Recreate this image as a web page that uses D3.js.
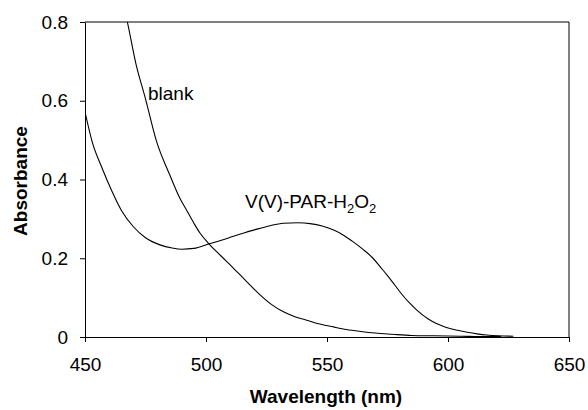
<!DOCTYPE html>
<html>
  <head>
    <script src="https://d3js.org/d3.v7.min.js"></script>
    <style>
      body { margin: 0; background: #fff; }
      text { font-family: Arial, "Liberation Sans", sans-serif; }
      .tick text { font-size: 19px; fill: #000; }
      .axis-title { font-size: 19px; font-weight: bold; }
      .label { font-size: 19px; }
    </style>
  </head>
  <body>
    <div id="chart"></div>
    <script>
      const complexWl = [450, 453, 457, 461, 465, 470, 475, 481, 486, 490, 495, 501, 506, 511, 516, 520, 526, 532, 538, 543, 548, 553, 557, 561, 565, 569, 572, 575, 578, 581, 584, 587, 592, 599, 604, 608, 612, 616, 621, 627];
      const complexAbs = [0.572, 0.495, 0.430, 0.372, 0.322, 0.280, 0.252, 0.234, 0.226, 0.223, 0.225, 0.236, 0.245, 0.255, 0.265, 0.272, 0.282, 0.289, 0.290, 0.288, 0.282, 0.271, 0.258, 0.241, 0.222, 0.200, 0.178, 0.156, 0.132, 0.108, 0.087, 0.069, 0.045, 0.025, 0.017, 0.012, 0.008, 0.005, 0.003, 0.002];
      const blankWl = [466, 467.5, 471, 475, 479.5, 485, 489, 492, 495, 497.5, 501, 506, 511, 516, 522, 527, 532, 537, 542, 547, 553, 558, 564, 570, 577, 585, 594, 605, 614, 622];
      const blankAbs = [0.84, 0.80, 0.695, 0.605, 0.498, 0.412, 0.355, 0.322, 0.289, 0.264, 0.238, 0.207, 0.177, 0.146, 0.109, 0.083, 0.064, 0.051, 0.042, 0.033, 0.025, 0.019, 0.014, 0.010, 0.007, 0.004, 0.003, 0.002, 0.001, 0.001];
      const xTicks = [450, 500, 550, 600, 650];
      const yTicks = [0, 0.2, 0.4, 0.6, 0.8];

      const W = 588, H = 410;
      const m = { left: 85, right: 569, top: 22, bottom: 337 };

      const svg = d3.select("#chart").append("svg")
        .attr("width", W).attr("height", H);

      const x = d3.scaleLinear().domain([450, 650]).range([m.left, m.right]);
      const y = d3.scaleLinear().domain([0, 0.8]).range([m.bottom, m.top]);

      svg.append("defs").append("clipPath").attr("id", "clip")
        .append("rect")
        .attr("x", m.left).attr("y", m.top)
        .attr("width", m.right - m.left).attr("height", m.bottom - m.top);

      // frame top and right
      svg.append("line").attr("x1", m.left).attr("x2", m.right).attr("y1", m.top).attr("y2", m.top)
        .attr("stroke", "#000").attr("stroke-width", 1);
      svg.append("line").attr("x1", m.right).attr("x2", m.right).attr("y1", m.top).attr("y2", m.bottom)
        .attr("stroke", "#000").attr("stroke-width", 1);

      const xAxis = svg.append("g")
        .attr("transform", `translate(0,${m.bottom})`)
        .call(d3.axisBottom(x).tickValues(xTicks).tickSize(5).tickSizeOuter(0).tickPadding(16));
      const yAxis = svg.append("g")
        .attr("transform", `translate(${m.left},0)`)
        .call(d3.axisLeft(y).tickValues(yTicks).tickSize(5).tickSizeOuter(0).tickPadding(12)
          .tickFormat(d => d === 0 ? "0" : d3.format(".1f")(d)));
      [xAxis, yAxis].forEach(g => {
        g.select(".domain").attr("stroke", "#000");
        g.selectAll(".tick line").attr("stroke", "#000");
        g.selectAll(".tick text").attr("font-family", null).attr("font-size", null);
      });

      const line = d3.line()
        .x(d => x(d[0]))
        .y(d => y(d[1]))
        .curve(d3.curveMonotoneX);

      const plot = svg.append("g").attr("clip-path", "url(#clip)");
      plot.append("path")
        .datum(complexWl.map((w, i) => [w, complexAbs[i]]))
        .attr("fill", "none").attr("stroke", "#000").attr("stroke-width", 1.1)
        .attr("d", line);
      plot.append("path")
        .datum(blankWl.map((w, i) => [w, blankAbs[i]]))
        .attr("fill", "none").attr("stroke", "#000").attr("stroke-width", 1.1)
        .attr("d", line);

      svg.append("text").attr("class", "label")
        .attr("x", 148).attr("y", 100).text("blank");

      const lab = svg.append("text").attr("class", "label")
        .attr("x", 245).attr("y", 208);
      lab.append("tspan").text("V(V)-PAR-H");
      lab.append("tspan").attr("font-size", 13).attr("dy", 5).text("2");
      lab.append("tspan").attr("dy", -5).text("O");
      lab.append("tspan").attr("font-size", 13).attr("dy", 5).text("2");

      svg.append("text").attr("class", "axis-title")
        .attr("x", (m.left + m.right) / 2 - 1).attr("y", 403)
        .attr("text-anchor", "middle").text("Wavelength (nm)");
      svg.append("text").attr("class", "axis-title")
        .attr("transform", "translate(27,181) rotate(-90)")
        .attr("text-anchor", "middle").text("Absorbance");
    </script>
  </body>
</html>
